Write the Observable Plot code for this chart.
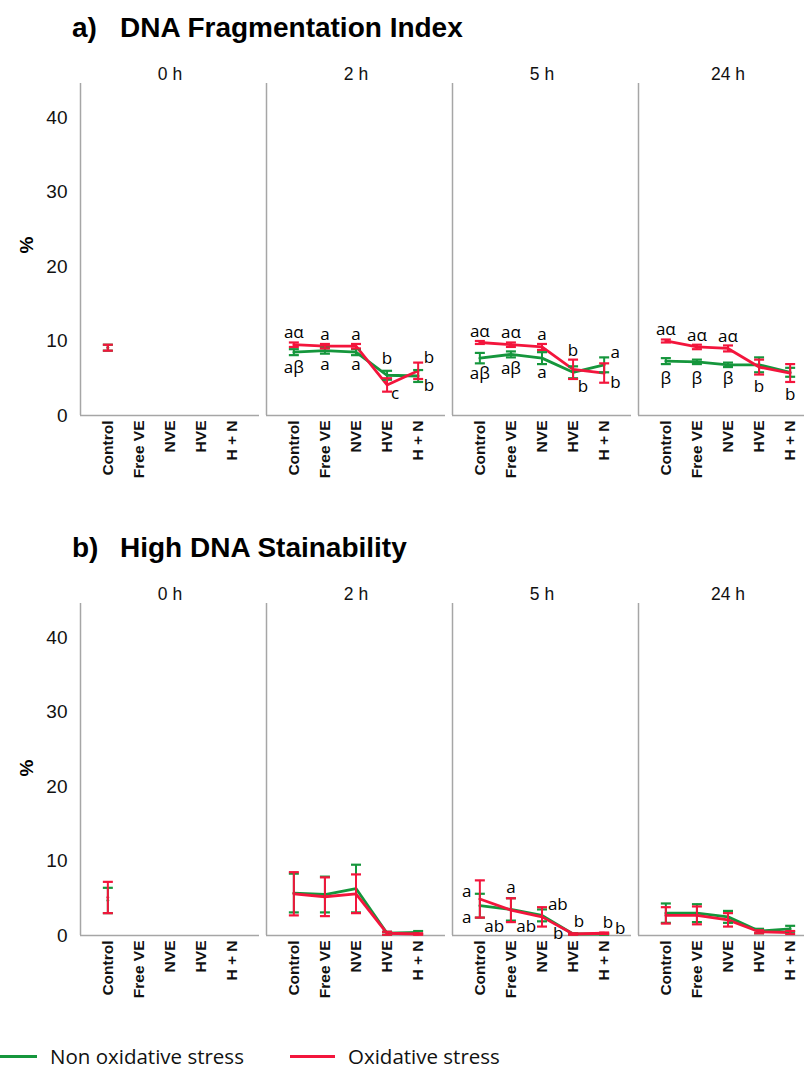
<!DOCTYPE html>
<html><head><meta charset="utf-8">
<script src="https://cdn.jsdelivr.net/npm/d3@7"></script>
<script src="https://cdn.jsdelivr.net/npm/@observablehq/plot@0.6"></script>
<style>
html,body{margin:0;padding:0;background:#fff;overflow:hidden;}
#root{position:relative;width:820px;height:1077px;font-family:"Liberation Sans",Arial,sans-serif;color:#000}
.abs{position:absolute}
.title{font-weight:bold;font-size:28px;line-height:32px;white-space:nowrap}
.ylab{font-weight:bold;font-size:19px;transform:translate(-50%,-50%) rotate(-90deg);white-space:nowrap}
.leg{font-family:"Open Sans",sans-serif;font-size:20.5px;line-height:24px;white-space:nowrap;color:#111}
.legline{height:3px}
</style></head><body><div id="root"></div>
<script>
const categories = ["Control", "Free VE", "NVE", "HVE", "H + N"];
const times = ["0 h", "2 h", "5 h", "24 h"];
const seriesNames = ["Non oxidative stress", "Oxidative stress"];
const colors = ["#15963c", "#f3153c"];
const yTicks = [0, 10, 20, 30, 40];

// a) DNA Fragmentation Index (rows = time, columns = category)
const dfiNonMean = [
  [9.1, null, null, null, null],
  [8.5, 8.7, 8.5, 5.4, 5.3],
  [7.7, 8.2, 7.7, 5.8, 6.8],
  [7.3, 7.2, 6.8, 6.8, 5.8]
];
const dfiNonErr = [
  [0.4, null, null, null, null],
  [0.4, 0.4, 0.4, 0.6, 0.8],
  [0.7, 0.4, 0.8, 0.8, 1.0],
  [0.4, 0.3, 0.3, 1.0, 0.6]
];
const dfiOxMean = [
  [9.1, null, null, null, null],
  [9.5, 9.3, 9.3, 4.1, 6.0],
  [9.8, 9.5, 9.2, 6.2, 5.7],
  [10.0, 9.2, 9.0, 6.5, 5.7]
];
const dfiOxErr = [
  [0.4, null, null, null, null],
  [0.3, 0.3, 0.3, 0.9, 1.1],
  [0.2, 0.3, 0.4, 1.3, 1.3],
  [0.2, 0.3, 0.4, 1.0, 1.2]
];
// significance letters: [time, category index, text, y value, offset in category steps]
const dfiLetters = [
  ["2 h", 0, "aα", 11.2, 0], ["2 h", 1, "a", 10.8, 0], ["2 h", 2, "a", 10.8, 0],
  ["2 h", 0, "aβ", 6.4, 0], ["2 h", 1, "a", 6.9, 0], ["2 h", 2, "a", 6.9, 0],
  ["2 h", 3, "b", 7.6, 0], ["2 h", 3, "c", 3.0, 0.26], ["2 h", 4, "b", 7.8, 0.35], ["2 h", 4, "b", 4.0, 0.35],
  ["5 h", 0, "aα", 11.3, 0], ["5 h", 1, "aα", 11.2, 0], ["5 h", 2, "a", 10.9, 0],
  ["5 h", 0, "aβ", 5.6, 0], ["5 h", 1, "aβ", 6.3, 0], ["5 h", 2, "a", 5.7, 0],
  ["5 h", 3, "b", 8.7, 0], ["5 h", 3, "b", 3.9, 0.32], ["5 h", 4, "a", 8.4, 0.36], ["5 h", 4, "b", 4.4, 0.36],
  ["24 h", 0, "aα", 11.5, 0], ["24 h", 1, "aα", 10.7, 0], ["24 h", 2, "aα", 10.6, 0],
  ["24 h", 0, "β", 5.0, 0], ["24 h", 1, "β", 5.0, 0], ["24 h", 2, "β", 5.0, 0],
  ["24 h", 3, "b", 3.9, 0], ["24 h", 4, "b", 2.8, 0]
];

// b) High DNA Stainability
const hdsNonMean = [
  [4.7, null, null, null, null],
  [5.7, 5.5, 6.3, 0.3, 0.4],
  [4.0, 3.5, 2.7, 0.2, 0.2],
  [3.0, 3.0, 2.5, 0.6, 0.9]
];
const hdsNonErr = [
  [1.7, null, null, null, null],
  [2.6, 2.4, 3.2, 0.2, 0.2],
  [1.6, 1.5, 0.8, 0.1, 0.1],
  [1.3, 1.2, 0.8, 0.3, 0.4]
];
const hdsOxMean = [
  [5.1, null, null, null, null],
  [5.6, 5.2, 5.6, 0.3, 0.2],
  [4.9, 3.4, 2.5, 0.2, 0.3],
  [2.7, 2.7, 2.1, 0.5, 0.4]
];
const hdsOxErr = [
  [2.1, null, null, null, null],
  [2.9, 2.6, 2.6, 0.2, 0.1],
  [2.5, 1.6, 1.3, 0.1, 0.1],
  [1.1, 1.2, 0.9, 0.2, 0.2]
];
const hdsLetters = [
  ["5 h", 0, "a", 5.9, -0.42], ["5 h", 0, "a", 2.4, -0.42], ["5 h", 1, "a", 6.4, 0],
  ["5 h", 1, "ab", 1.2, -0.54], ["5 h", 2, "ab", 1.2, -0.51], ["5 h", 2, "ab", 4.1, 0.51],
  ["5 h", 3, "b", 1.9, 0.19], ["5 h", 3, "b", 0.2, -0.48], ["5 h", 4, "b", 1.7, 0.12], ["5 h", 4, "b", 0.9, 0.52]
];

const capSymbol = {draw(ctx) { ctx.moveTo(-5, 0); ctx.lineTo(5, 0); }};

function buildRows(means, errs, s) {
  const rows = [];
  means.forEach((row, t) => row.forEach((v, i) => {
    if (v != null) rows.push({time: times[t], i, s, mean: v, lo: v - errs[t][i], hi: v + errs[t][i]});
  }));
  return rows;
}

function chart(nonMean, nonErr, oxMean, oxErr, letters) {
  const non = buildRows(nonMean, nonErr, 0);
  const ox = buildRows(oxMean, oxErr, 1);
  const lab = letters.map(([time, i, text, y, off]) => ({time, i, text, y, off}));
  const lineMarks = (rows, c) => [
    Plot.line(rows, {fx: "time", x: "i", y: "mean", z: "time", stroke: colors[c], strokeWidth: 2.8})
  ];
  const barMarks = (rows, c) => [
    Plot.ruleX(rows, {fx: "time", x: "i", y1: "lo", y2: "hi", stroke: colors[c], strokeWidth: 2}),
    Plot.dot(rows, {fx: "time", x: "i", y: "lo", symbol: capSymbol, fill: "none", stroke: colors[c], strokeWidth: 2.2}),
    Plot.dot(rows, {fx: "time", x: "i", y: "hi", symbol: capSymbol, fill: "none", stroke: colors[c], strokeWidth: 2.2})
  ];
  return Plot.plot({
    width: 820, height: 435,
    marginLeft: 78, marginRight: 2, marginTop: 33, marginBottom: 70,
    style: {fontFamily: "Liberation Sans, Arial, sans-serif", background: "white", color: "#111", overflow: "visible"},
    fx: {domain: times, padding: 0.04, label: null},
    x: {domain: [-0.88, 4.88], label: null},
    y: {domain: [0, 44.56], label: null},
    marks: [
      Plot.axisFx({anchor: "top", tickSize: 0, tickPadding: 4, fontSize: 17.5, label: null}),
      Plot.axisY({ticks: yTicks, tickSize: 0, tickPadding: 13, fontSize: 19, label: null}),
      Plot.axisX({ticks: [0, 1, 2, 3, 4], tickFormat: i => categories[i], tickRotate: -90, tickSize: 0, tickPadding: 5, fontSize: 15.5, fontWeight: "bold", label: null}),
      Plot.ruleX([-0.88], {stroke: "#a6a6a6", strokeWidth: 1.5}),
      Plot.ruleY([0], {stroke: "#a6a6a6", strokeWidth: 1.5}),
      ...lineMarks(non, 0),
      ...lineMarks(ox, 1),
      ...barMarks(non, 0),
      ...barMarks(ox, 1),
      Plot.text(lab, {fx: "time", x: d => d.i + d.off, y: "y", text: "text", fontSize: 17, fontFamily: "Open Sans, sans-serif", fill: "#000"})
    ]
  });
}

const root = document.getElementById("root");
function add(html, css) {
  const d = document.createElement("div");
  d.className = "abs";
  d.innerHTML = html;
  Object.assign(d.style, css);
  root.appendChild(d);
  return d;
}

add('<span class="title">a)</span>', {left: "72px", top: "12px"});
add('<span class="title">DNA Fragmentation Index</span>', {left: "120px", top: "12px"});
const cA = chart(dfiNonMean, dfiNonErr, dfiOxMean, dfiOxErr, dfiLetters);
const wA = add("", {left: "0px", top: "50px"}); wA.appendChild(cA);
add('<div class="ylab">%</div>', {left: "27px", top: "245px"});

add('<span class="title">b)</span>', {left: "72px", top: "532px"});
add('<span class="title">High DNA Stainability</span>', {left: "120px", top: "532px"});
const cB = chart(hdsNonMean, hdsNonErr, hdsOxMean, hdsOxErr, hdsLetters);
const wB = add("", {left: "0px", top: "570px"}); wB.appendChild(cB);
add('<div class="ylab">%</div>', {left: "27px", top: "768px"});

add(`<div class="legline" style="width:37px;background:${colors[0]}"></div>`, {left: "0px", top: "1055px"});
add(`<span class="leg">${seriesNames[0]}</span>`, {left: "50px", top: "1044px"});
add(`<div class="legline" style="width:45px;background:${colors[1]}"></div>`, {left: "290px", top: "1055px"});
add(`<span class="leg">${seriesNames[1]}</span>`, {left: "348px", top: "1044px"});
</script></body></html>
